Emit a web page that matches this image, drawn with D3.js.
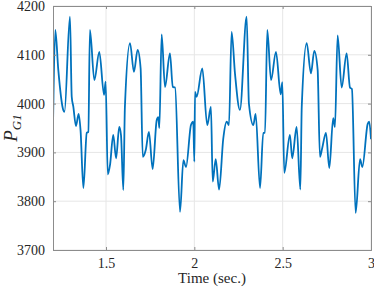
<!DOCTYPE html>
<html>
<head>
<meta charset="utf-8">
<script src="https://cdn.jsdelivr.net/npm/d3@7"></script>
<style>
  body { margin: 0; background: #fff; }
  svg { display: block; }
</style>
</head>
<body>
<svg id="chart" width="374" height="290"></svg>
<script>
// time (sec.) and generator power
var timeVals = [1.200, 1.213, 1.230, 1.258, 1.265, 1.296, 1.306, 1.315, 1.330, 1.345, 1.356, 1.372, 1.391, 1.400,
	1.409, 1.434, 1.462, 1.489, 1.498, 1.510, 1.523, 1.541, 1.557, 1.575, 1.585, 1.598, 1.607, 1.636, 1.658,
	1.679, 1.696, 1.708, 1.725, 1.743, 1.764, 1.787, 1.796, 1.802, 1.815, 1.834, 1.862, 1.878, 1.891, 1.919,
	1.938, 1.953, 1.981, 1.994, 2.000, 2.004, 2.013, 2.045, 2.073, 2.094, 2.104, 2.121, 2.140, 2.164, 2.183,
	2.196, 2.211, 2.230, 2.258, 2.296, 2.309, 2.334, 2.347, 2.372, 2.390, 2.400, 2.413, 2.434, 2.462, 2.489,
	2.498, 2.509, 2.541, 2.554, 2.579, 2.600, 2.608, 2.636, 2.660, 2.679, 2.698, 2.711, 2.724, 2.745, 2.764,
	2.786, 2.796, 2.811, 2.834, 2.862, 2.881, 2.892, 2.913, 2.938, 2.951, 2.981, 2.990, 3.000];
var powerVals = [3953, 4151, 4069, 3987, 3983, 4178, 4014, 3994, 3954, 3979, 3945, 3827, 3940, 3942,
	4151, 4048, 4106, 4018, 4045, 3855, 3875, 3936, 3888, 3952, 3935, 3823, 3993, 4124, 4065,
	4110, 4072, 3891, 3905, 3942, 3866, 3966, 3972, 3950, 4142, 4034, 4103, 4034, 4033, 3778,
	3884, 3870, 3956, 3963, 3881, 4024, 4014, 4072, 3956, 3993, 3840, 3886, 3824, 3929, 3963,
	3956, 4147, 4062, 3987, 4178, 4000, 3956, 3979, 3827, 3940, 3940, 4151, 4048, 4106, 4019,
	4044, 3858, 3936, 3888, 3952, 3824, 3993, 4124, 4062, 4108, 4069, 3891, 3909, 3940, 3868,
	3970, 3952, 4140, 4033, 4103, 4033, 4030, 3776, 3886, 3870, 3958, 3963, 3927];
var xTicks = [1.5, 2, 2.5, 3];
var yTicks = [3700, 3800, 3900, 4000, 4100, 4200];

var margin = {top: 6, right: 3, bottom: 40, left: 53},
	width = 374 - margin.left - margin.right,
	height = 290 - margin.top - margin.bottom;

var svg = d3.select("#chart");
var g = svg.append("g").attr("transform", "translate(" + margin.left + "," + margin.top + ")");

var x = d3.scaleLinear().domain([1.2, 3]).range([0, width]);
var y = d3.scaleLinear().domain([3700, 4200]).range([height, 0]);

// grid
g.append("g").selectAll("line").data(xTicks).enter().append("line")
	.attr("x1", d => x(d)).attr("x2", d => x(d))
	.attr("y1", 0).attr("y2", height)
	.attr("stroke", "#e6e6e6").attr("stroke-width", 1);
g.append("g").selectAll("line").data(yTicks).enter().append("line")
	.attr("x1", 0).attr("x2", width)
	.attr("y1", d => y(d)).attr("y2", d => y(d))
	.attr("stroke", "#e6e6e6").attr("stroke-width", 1);

// data line
var pts = timeVals.map((t, i) => [t, powerVals[i]]);
g.append("clipPath").attr("id", "clip").append("rect")
	.attr("width", width).attr("height", height);
g.append("path")
	.datum(pts)
	.attr("clip-path", "url(#clip)")
	.attr("fill", "none")
	.attr("stroke", "#0072BD")
	.attr("stroke-width", 1.8)
	.attr("stroke-linejoin", "round")
	.attr("d", d3.line().x(d => x(d[0])).y(d => y(d[1])).curve(d3.curveMonotoneX));

// axes
g.append("g").attr("transform", "translate(0," + height + ")")
	.call(d3.axisBottom(x).tickValues(xTicks).tickSize(-3).tickPadding(8).tickFormat(d3.format("")));
g.append("g")
	.call(d3.axisLeft(y).tickValues(yTicks).tickSize(-3).tickPadding(8).tickFormat(d3.format("")));
g.append("g")
	.call(d3.axisTop(x).tickValues(xTicks).tickSize(-3).tickFormat(""));
g.append("g").attr("transform", "translate(" + width + ",0)")
	.call(d3.axisRight(y).tickValues(yTicks).tickSize(-3).tickFormat(""));

g.selectAll(".domain, .tick line").attr("stroke", "#8c8c8c");
g.selectAll(".tick text")
	.style("font-family", "'Liberation Serif', serif")
	.style("font-size", "14px")
	.attr("fill", "#262626");

svg.append("text")
	.attr("x", margin.left + width / 2)
	.attr("y", 283)
	.attr("text-anchor", "middle")
	.style("font-family", "'Liberation Serif', serif")
	.style("font-size", "15px")
	.attr("fill", "#262626")
	.text("Time (sec.)");

var yl = svg.append("text")
	.attr("transform", "translate(17," + (margin.top + height / 2) + ") rotate(-90)")
	.attr("text-anchor", "middle")
	.style("font-family", "'Liberation Serif', serif")
	.style("font-style", "italic")
	.attr("fill", "#262626");
yl.append("tspan").style("font-size", "19px").text("P");
yl.append("tspan").style("font-size", "13px").attr("dy", 4).text("G1");
</script>
</body>
</html>
